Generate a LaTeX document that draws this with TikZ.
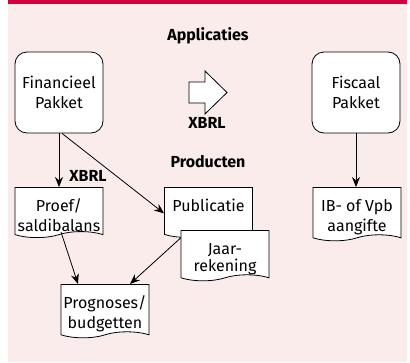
\documentclass[tikz,border=0pt]{standalone}
\usepackage{fontspec}
\setmainfont{Fira Sans}
\usetikzlibrary{shapes.symbols,arrows.meta}
\definecolor{bgpink}{HTML}{F9ECEB}
\definecolor{bandred}{HTML}{D2003C}
\newcommand{\dropline}{\rule{0pt}{24pt}}
\begin{document}
\begin{tikzpicture}[x=1pt,y=-1pt,
  txt/.style={font=\fontsize{16}{20}\selectfont, align=center},
  appbox/.style={txt, draw, fill=white, rounded corners=12pt, minimum width=88pt, minimum height=81pt, inner sep=0pt, line width=0.8pt},
  docbox/.style={txt, draw, fill=white, tape, tape bend top=none, tape bend bottom=in and out, tape bend height=6pt, minimum width=88pt, minimum height=50pt, inner sep=0pt, line width=0.8pt, anchor=north},
  hdr/.style={font=\fontsize{16}{18}\selectfont\bfseries},
  arr/.style={-{Stealth[length=10pt,width=8pt]}, line width=0.8pt},
]
\useasboundingbox (0,0) rectangle (410,362);
\fill[bgpink] (8,0) rectangle (407,362);
\fill[bandred] (8,0) rectangle (407,4);
\node[hdr] (app) at (208,36) {Applicaties};
\node[appbox] (fin) at (59,92.5) {Financieel\\Pakket};
\node[appbox] (fis) at (356,92.5) {Fiscaal\\Pakket};
\draw[fill=white, line width=0.8pt] (189,82) -- (205,82) -- (205,71) -- (227,92.5) -- (205,114) -- (205,103) -- (189,103) -- cycle;
\node[hdr] (xbrla) at (207,123) {XBRL};
\node[hdr] (prod) at (208,162) {Producten};
\node[docbox] (proef) at (59,187) {\dropline Proef/\\saldibalans};
\node[docbox] (publ) at (208.5,187) {\dropline Publicatie\\\phantom{x}};
\node[docbox, font=\fontsize{16}{17}\selectfont] (jaar) at (225,230) {\dropline Jaar-\\rekening};
\node[docbox] (prog) at (105,284) {\dropline Prognoses/\\budgetten};
\node[docbox] (ib) at (357,187) {\dropline IB- of Vpb\\aangifte};
\draw[arr] (fin.south) -- (proef.north);
\node[hdr] (xbrlb) at (88,176) {XBRL};
\draw[arr] ([xshift=3pt]fin.south) -- ([yshift=-4pt]publ.west);
\draw[arr] (fis.south) -- (fis.south |- ib.north);
\draw[arr] ([xshift=2pt]proef.south) -- ([xshift=-27pt]prog.north);
\draw[arr] ([yshift=-8pt]jaar.north west) -- ([xshift=25pt]prog.north);
\end{tikzpicture}
\end{document}
